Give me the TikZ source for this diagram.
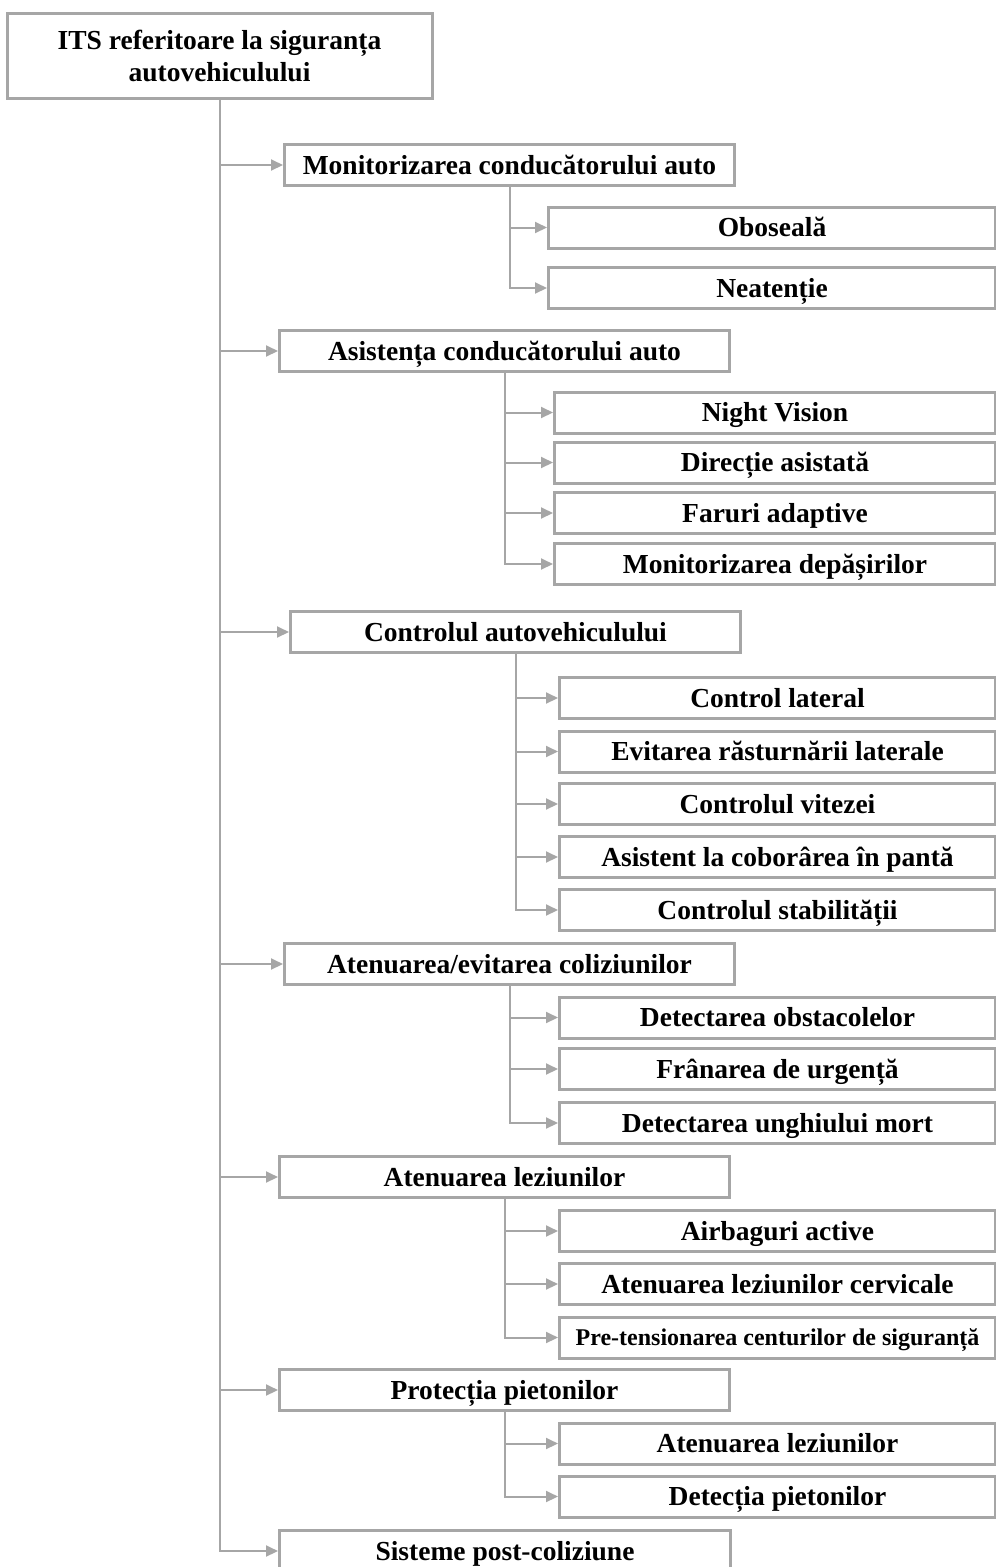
\documentclass[tikz,border=0pt]{standalone}
\usepackage{fontspec}
\setmainfont{Liberation Serif}
\usetikzlibrary{arrows.meta,positioning}
\definecolor{boxgray}{RGB}{166,166,166}

\tikzset{
    box/.style={draw=boxgray, line width=3pt, fill=white, inner sep=0pt,
        font=\bfseries\fontsize{27.5}{32}\selectfont,
        text height=18.3pt, text depth=0pt, minimum height=41pt, anchor=west},
    mainbox/.style={box, minimum width=450pt},
    link/.style={draw=boxgray, line width=2pt, -{Triangle[length=12pt,width=11pt]}}
}

\begin{document}
\begin{tikzpicture}[x=1pt, y=-1pt]
        \useasboundingbox (0,0) rectangle (996,1567);
        % root
        \node[draw=boxgray, line width=3pt, align=center, inner sep=0pt,
            minimum width=425pt, minimum height=85pt,
            font=\bfseries\fontsize{27.5}{32}\selectfont] (root) at (219.5,55.5)
            {ITS referitoare la siguranța\\autovehiculului};
        % first level
        \node[mainbox] (mon) at (283,165) {Monitorizarea conducătorului auto};
        \node[mainbox] (asist) at (278,351) {Asistența conducătorului auto};
        \node[mainbox] (ctrl) at (289,632) {Controlul autovehiculului};
        \node[mainbox] (coliz) at (283,964) {Atenuarea/evitarea coliziunilor};
        \node[mainbox] (lez) at (278,1177) {Atenuarea leziunilor};
        \node[mainbox] (piet) at (278,1390) {Protecția pietonilor};
        \node[mainbox, minimum width=451pt] (post) at (278,1551) {Sisteme post-coliziune};
        % monitorizare
        \node[box, minimum width=447pt] (mon1) at (547,227.5) {Oboseală};
        \node[box, minimum width=447pt] (mon2) at (547,288) {Neatenție};
        % asistenta
        \node[box, minimum width=441pt] (asist1) at (553,412.5) {Night Vision};
        \node[box, minimum width=441pt] (asist2) at (553,462.5) {Direcție asistată};
        \node[box, minimum width=441pt] (asist3) at (553,513) {Faruri adaptive};
        \node[box, minimum width=441pt] (asist4) at (553,564) {Monitorizarea depășirilor};
        % control
        \node[box, minimum width=436pt] (ctrl1) at (558,698) {Control lateral};
        \node[box, minimum width=436pt] (ctrl2) at (558,751.5) {Evitarea răsturnării laterale};
        \node[box, minimum width=436pt] (ctrl3) at (558,804) {Controlul vitezei};
        \node[box, minimum width=436pt] (ctrl4) at (558,857) {Asistent la coborârea în pantă};
        \node[box, minimum width=436pt] (ctrl5) at (558,910) {Controlul stabilității};
        % coliziuni
        \node[box, minimum width=436pt] (coliz1) at (558,1017.5) {Detectarea obstacolelor};
        \node[box, minimum width=436pt] (coliz2) at (558,1069) {Frânarea de urgență};
        \node[box, minimum width=436pt] (coliz3) at (558,1123) {Detectarea unghiului mort};
        % leziuni
        \node[box, minimum width=436pt] (lez1) at (558,1231) {Airbaguri active};
        \node[box, minimum width=436pt] (lez2) at (558,1284) {Atenuarea leziunilor cervicale};
        \node[box, minimum width=436pt, font=\bfseries\fontsize{24}{28}\selectfont,
            text height=16pt] (lez3) at (558,1337.5) {Pre-tensionarea centurilor de siguranță};
        % pietoni
        \node[box, minimum width=436pt] (piet1) at (558,1443.5) {Atenuarea leziunilor};
        \node[box, minimum width=436pt] (piet2) at (558,1496.5) {Detecția pietonilor};

        % trunk
        \draw[link] (root.south) |- (post.west);
        \draw[link] (root.south |- mon.west) -- (mon.west);
        \draw[link] (root.south |- asist.west) -- (asist.west);
        \draw[link] (root.south |- ctrl.west) -- (ctrl.west);
        \draw[link] (root.south |- coliz.west) -- (coliz.west);
        \draw[link] (root.south |- lez.west) -- (lez.west);
        \draw[link] (root.south |- piet.west) -- (piet.west);
        % branches
        \draw[link] (mon.south) |- (mon2.west);
        \draw[link] (mon.south |- mon1.west) -- (mon1.west);
        \draw[link] (asist.south) |- (asist4.west);
        \draw[link] (asist.south |- asist1.west) -- (asist1.west);
        \draw[link] (asist.south |- asist2.west) -- (asist2.west);
        \draw[link] (asist.south |- asist3.west) -- (asist3.west);
        \draw[link] (ctrl.south) |- (ctrl5.west);
        \draw[link] (ctrl.south |- ctrl1.west) -- (ctrl1.west);
        \draw[link] (ctrl.south |- ctrl2.west) -- (ctrl2.west);
        \draw[link] (ctrl.south |- ctrl3.west) -- (ctrl3.west);
        \draw[link] (ctrl.south |- ctrl4.west) -- (ctrl4.west);
        \draw[link] (coliz.south) |- (coliz3.west);
        \draw[link] (coliz.south |- coliz1.west) -- (coliz1.west);
        \draw[link] (coliz.south |- coliz2.west) -- (coliz2.west);
        \draw[link] (lez.south) |- (lez3.west);
        \draw[link] (lez.south |- lez1.west) -- (lez1.west);
        \draw[link] (lez.south |- lez2.west) -- (lez2.west);
        \draw[link] (piet.south) |- (piet2.west);
        \draw[link] (piet.south |- piet1.west) -- (piet1.west);
\end{tikzpicture}
\end{document}
